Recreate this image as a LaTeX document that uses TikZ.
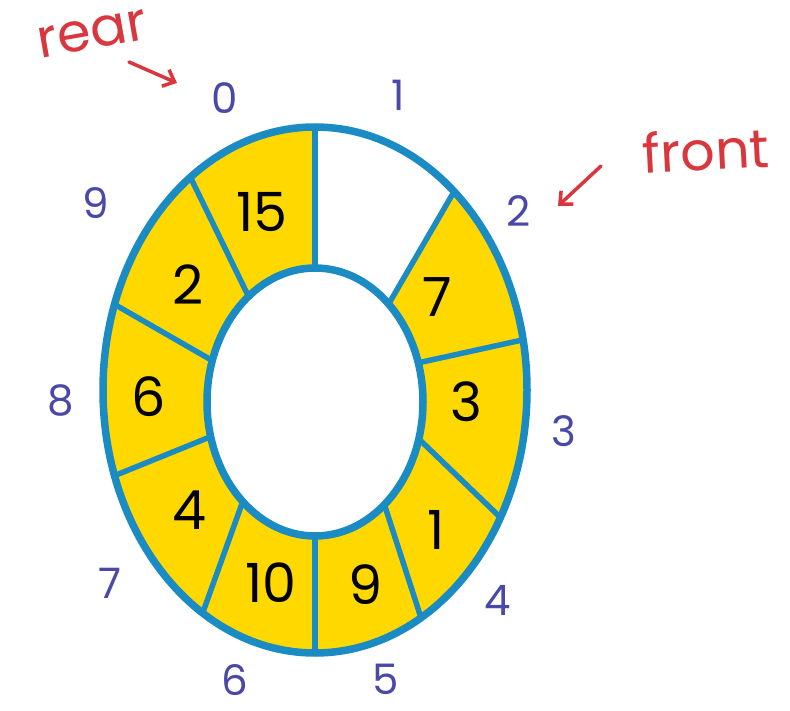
\documentclass[tikz,border=0pt]{standalone}
\usepackage{fontspec}
\setmainfont{Poppins}
\usetikzlibrary{arrows.meta}
\definecolor{ringblue}{HTML}{1B8BC4}
\definecolor{cellyellow}{HTML}{FFD800}
\definecolor{idxblue}{HTML}{4A48A8}
\definecolor{notered}{HTML}{D9363E}
\begin{document}
\begin{tikzpicture}[x=1pt,y=-1pt,
  val/.style={font=\fontsize{54}{54}\selectfont, text=black, inner sep=0pt},
  idx/.style={font=\fontsize{42}{42}\selectfont, text=idxblue, inner sep=0pt},
  note/.style={font=\fontsize{54}{54}\selectfont, text=notered, inner sep=0pt},
  divider/.style={draw=ringblue, line width=5.5pt},
  rim/.style={draw=ringblue, line width=7.5pt},
  pointer/.style={draw=notered, line width=3.5pt, line cap=round, -{Straight Barb[length=10pt,width=18pt]}}]
\useasboundingbox (0,0) rectangle (790,711);
\fill[white] (0,0) rectangle (790,711);
% ring fill
\fill[cellyellow, even odd rule] (315,390) ellipse [x radius=212, y radius=263]
      (315,402) ellipse [x radius=108, y radius=134];
% empty slot 1
\fill[white] (315,127) arc[start angle=-90, end angle=-49, x radius=212, y radius=263]
      -- ({315+108*cos(47)},{402-134*sin(47)})
      arc[start angle=-47, end angle=-90, x radius=108, y radius=134] -- cycle;
% dividers
\foreach \o/\i in {90/90,126/128,161/162,199/195,238/228,270/270,-60/-50,-29/-16,11/17,49/47}
  \draw[divider] ({315+212*cos(\o)},{390-263*sin(\o)}) -- ({315+108*cos(\i)},{402-134*sin(\i)});
% rims
\draw[rim] (315,390) ellipse [x radius=212, y radius=263];
\draw[rim] (315,402) ellipse [x radius=108, y radius=134];
% values
\node[val] (v0) at (262,212) {15};
\node[val] (v2) at (437,297) {7};
\node[val] (v3) at (466,402) {3};
\node[val] (v4) at (436,530) {1};
\node[val] (v5) at (366,585) {9};
\node[val] (v6) at (271,583) {10};
\node[val] (v7) at (189,510) {4};
\node[val] (v8) at (149,397) {6};
\node[val] (v9) at (188,285) {2};
% indices
\node[idx] (i0) at (225,98) {0};
\node[idx] (i1) at (398,95) {1};
\node[idx] (i2) at (519,211) {2};
\node[idx] (i3) at (564,431) {3};
\node[idx] (i4) at (498,600) {4};
\node[idx] (i5) at (386,679) {5};
\node[idx] (i6) at (235,680) {6};
\node[idx] (i7) at (110,583) {7};
\node[idx] (i8) at (61,401) {8};
\node[idx] (i9) at (96,203) {9};
% notes
\node[note, rotate=10] (rear) at (92,34) {rear};
\node[note, rotate=3] (front) at (706,150) {front};
\coordinate (rs) at (129,62);
\coordinate (re) at (177,83);
\coordinate (fs) at (601,166);
\coordinate (fe) at (558,206);
\draw[pointer] (rs) -- (re);
\draw[pointer] (fs) -- (fe);
\end{tikzpicture}
\end{document}
